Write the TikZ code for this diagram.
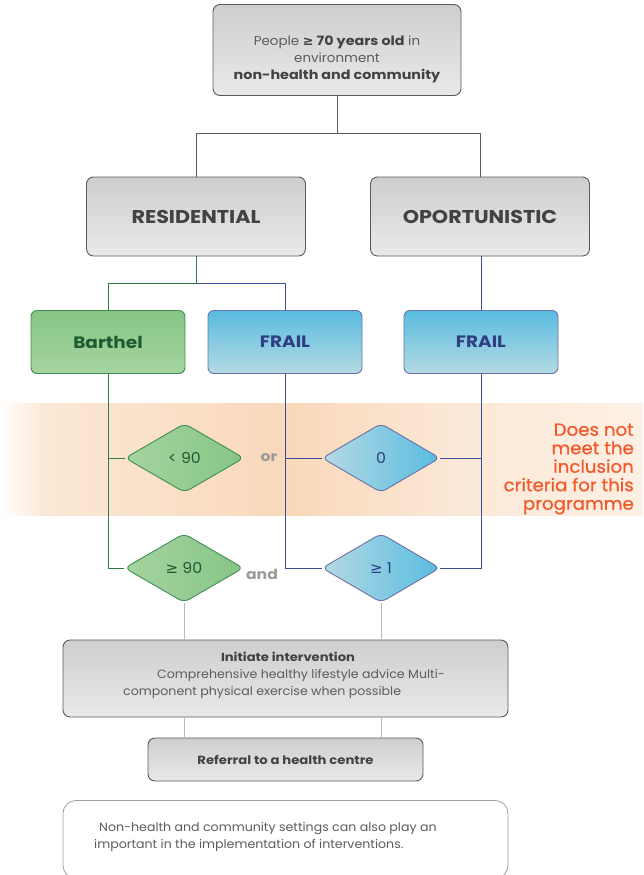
\documentclass[tikz,border=0pt]{standalone}
\usepackage{fontspec}
\setmainfont{Poppins}[FakeStretch=1.05, BoldFeatures={FakeStretch=1.12}]
\newfontfamily\symf{DejaVu Sans}
\newfontfamily\orf{Poppins}[FakeStretch=1.04, FakeBold=0.6]
\usetikzlibrary{shapes.geometric}
\definecolor{boxedge}{HTML}{5A5A5A}
\definecolor{gtop}{HTML}{CDCECE}
\definecolor{gbot}{HTML}{E9E9E9}
\definecolor{txtd}{HTML}{424242}
\definecolor{txtl}{HTML}{5C5C5C}
\definecolor{grntop}{HTML}{86C584}
\definecolor{grnbot}{HTML}{A6D4A0}
\definecolor{grnedge}{HTML}{3E8E52}
\definecolor{grntxt}{HTML}{1E5B34}
\definecolor{btop}{HTML}{58BCE0}
\definecolor{bbot}{HTML}{B5DAE2}
\definecolor{bedge}{HTML}{6A70A8}
\definecolor{btxt}{HTML}{2F3F82}
\definecolor{bline}{HTML}{3E4B9C}
\definecolor{gline}{HTML}{2F7D45}
\definecolor{orng}{HTML}{F2592A}
\definecolor{peach}{HTML}{FBE8D6}
\definecolor{peach2}{HTML}{F9D8BA}
\definecolor{peach3}{HTML}{FDF0E4}
\definecolor{andgray}{HTML}{9A9A9A}
\tikzset{
  graybox/.style={draw=boxedge, line width=0.9pt, rounded corners=7pt, top color=gtop, bottom color=gbot, text=txtd, align=center, inner sep=0pt},
  grnbox/.style={draw=grnedge, line width=0.9pt, rounded corners=6pt, top color=grntop, bottom color=grnbot, text=grntxt, inner sep=0pt, font=\fontsize{16.5}{19}\selectfont\bfseries},
  blubox/.style={draw=bedge, line width=0.9pt, rounded corners=6pt, top color=btop, bottom color=bbot, text=btxt, inner sep=0pt, font=\fontsize{16.5}{19}\selectfont\bfseries},
  grndia/.style={diamond, draw=grnedge, line width=0.9pt, rounded corners=6pt, left color=grnbot, right color=grntop, text=grntxt, inner sep=0pt, minimum width=119, minimum height=69, font=\fontsize{15}{17}\selectfont},
  bludia/.style={diamond, draw=bedge, line width=0.9pt, rounded corners=6pt, left color=bbot, right color=btop, text=btxt, inner sep=0pt, minimum width=118, minimum height=69, font=\fontsize{15}{17}\selectfont},
  blk/.style={draw=boxedge, line width=0.9pt},
  grn/.style={draw=gline, line width=0.9pt},
  blu/.style={draw=bline, line width=0.9pt},
  lgr/.style={draw=gray!55, line width=0.6pt},
  conj/.style={text=andgray, font=\fontsize{14}{16}\selectfont\bfseries, inner sep=0pt},
  bodytxt/.style={text=txtl, font=\fontsize{12}{15}\selectfont, inner sep=0pt},
}
\begin{document}
\begin{tikzpicture}[x=1pt, y=-1pt]
\useasboundingbox (0,0) rectangle (643,875);
% orange band
\fill[left color=white, right color=peach] (0,403) rectangle (45,515);
\fill[left color=peach, right color=peach2] (45,403) rectangle (290,515);
\fill[left color=peach2, right color=peach] (290,403) rectangle (450,515);
\fill[left color=peach, right color=peach3] (450,403) rectangle (643,515);

% top
\node[graybox, minimum width=248, minimum height=91] (top) at (337,50) {};
\node[text=txtd, align=center, inner sep=0pt, font=\fontsize{12.8}{17}\selectfont] (topt) at (337,59)
  {{\color{txtl}People} {\bfseries{\symf ≥} 70 years old} {\color{txtl}in}\\{\color{txtl}environment}\\{\bfseries non-health and community}};

\node[graybox, minimum width=219, minimum height=79, font=\fontsize{18.5}{21}\selectfont\bfseries] (res) at (196,216.5) {RESIDENTIAL};
\node[graybox, minimum width=219, minimum height=79, font=\fontsize{18.5}{21}\selectfont\bfseries] (opp) at (480,216.5) {OPORTUNISTIC};

\node[grnbox, minimum width=154, minimum height=63] (bar) at (108,342) {Barthel};
\node[blubox, minimum width=154, minimum height=63] (fr1) at (285,342) {FRAIL};
\node[blubox, minimum width=154, minimum height=63] (fr2) at (481,342) {FRAIL};

\node[grndia] (lt90) at (184.5,458) {< 90};
\node[bludia] (zero) at (381,458) {0};
\node[grndia] (ge90) at (184,568) {{\symf ≥} 90};
\node[bludia] (ge1) at (381,568) {{\symf ≥} 1};

\node[conj] (or) at (269,458) {or};
\node[conj] (and) at (262,574) {and};

\node[text=orng, align=right, anchor=east, inner sep=0pt, font=\orf\fontsize{17.5}{18.5}\selectfont] (dnm) at (634,469)
  {Does not\\meet the\\inclusion\\criteria for this\\programme};

% intervention
\node[graybox, minimum width=445, minimum height=77] (int) at (285.5,678.5) {};
\node[text=txtd, inner sep=0pt, font=\fontsize{11.7}{15}\selectfont\bfseries] (t1) at (288,657) {Initiate intervention};
\node[bodytxt, anchor=west] (t2) at (157,675) {Comprehensive healthy lifestyle advice Multi-};
\node[bodytxt, anchor=west] (t3) at (123,692) {component physical exercise when possible};

\node[graybox, minimum width=275, minimum height=43, font=\fontsize{11.8}{14}\selectfont\bfseries] (ref) at (285.5,759.5) {Referral to a health centre};

% note
\node[draw=gray!75, line width=0.8pt, fill=white, rounded corners=13pt, minimum width=445, minimum height=78, anchor=north, inner sep=0pt] (note) at (285.5,800) {};
\node[bodytxt, anchor=west] (n1) at (99,829) {Non-health and community settings can also play an};
\node[bodytxt, anchor=west] (n2) at (94,845) {important in the implementation of interventions.};

% connectors
\coordinate (j1) at (337,133);
\draw[blk] (top.south) -- (j1);
\draw[blk] (j1) -| (res.north);
\draw[blk] (j1) -| (opp.north);
\coordinate (j2) at (196,283);
\draw[grn] (res.south) -- (j2);
\draw[grn] (j2) -| (bar.north);
\draw[blu] (j2) -| (fr1.north);
\draw[blu] (opp.south -| fr2.north) -- (fr2.north);

\draw[grn] (bar.south) |- (ge90.west);
\draw[grn] (bar.south |- lt90.west) -- (lt90.west);
\draw[blu] (fr1.south) |- (ge1.west);
\draw[blu] (fr1.south |- zero.west) -- (zero.west);
\draw[blu] (fr2.south) |- (ge1.east);
\draw[blu] (fr2.south |- zero.east) -- (zero.east);

\draw[lgr] (ge90.south) -- (ge90.south |- int.north);
\draw[lgr] (ge1.south) -- (ge1.south |- int.north);
\draw[lgr] (int.south -| ge90.south) -- (ref.north -| ge90.south);
\draw[lgr] (int.south -| ge1.south) -- (ref.north -| ge1.south);
\end{tikzpicture}
\end{document}
